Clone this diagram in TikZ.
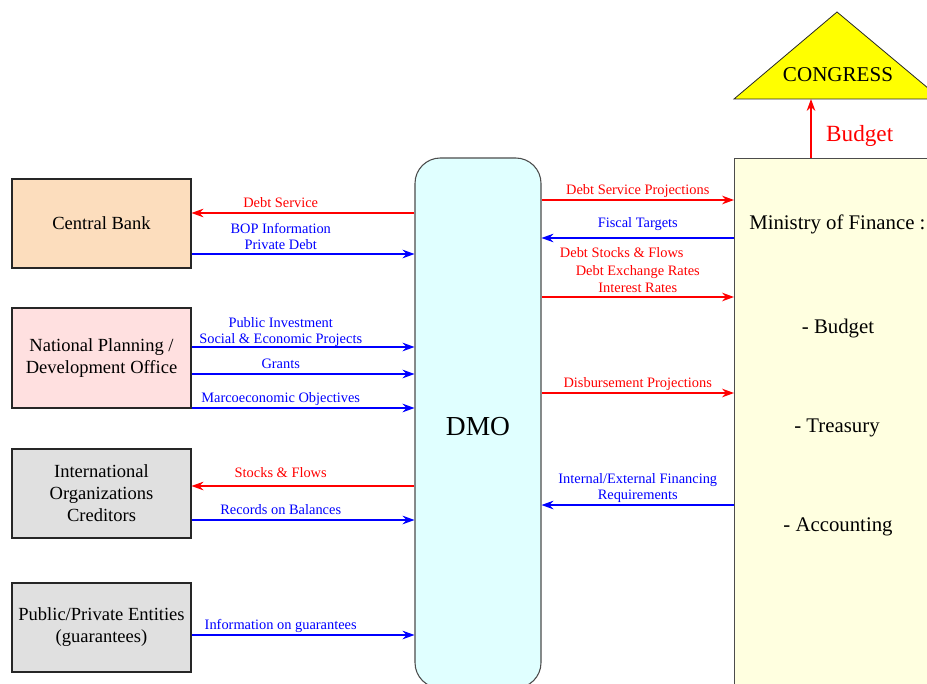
\documentclass[tikz,border=0pt]{standalone}
\usepackage{fontspec}
\setmainfont{Liberation Serif}
\usetikzlibrary{arrows.meta}

\definecolor{cbpeach}{HTML}{FCDDBD}
\definecolor{nppink}{HTML}{FFE0E0}
\definecolor{boxgray}{HTML}{E0E0E0}
\definecolor{dmocyan}{HTML}{E0FFFF}
\definecolor{mofyellow}{HTML}{FFFFE0}
\definecolor{congyellow}{HTML}{FFFF00}

\newcommand{\moffont}{\fontsize{15.6}{18}\selectfont}

\begin{document}
\begin{tikzpicture}[x=0.75pt,y=-0.75pt]

\tikzset{srcbox/.style={draw=black!85, line width=0.8pt, minimum width=134.25pt, minimum height=66.75pt, align=center, font=\fontsize{13.9}{16.5}\selectfont}}
\tikzset{flowred/.style={red, line width=0.8pt, -{Stealth[length=9pt,width=6.5pt,inset=3pt]}}}
\tikzset{flowblue/.style={flowred, blue}}
\tikzset{flowlbl/.style={above, inner sep=1.25pt, text depth=2.5pt, align=center, font=\fontsize{10.8}{12.2}\selectfont}}

\useasboundingbox (0,0) rectangle (927,684);
\clip (0,0) rectangle (927,684);

% sources
\node[srcbox, fill=cbpeach] (cb) at (101.5,223.5) {Central Bank};
\node[srcbox, fill=nppink, minimum height=75pt] (npo) at (101.5,358) {National Planning /\\Development Office};
\node[srcbox, fill=boxgray] (ioc) at (101.5,493.5) {International\\Organizations\\Creditors};
\node[srcbox, fill=boxgray] (ppe) at (101.5,627.5) {Public/Private Entities\\(guarantees)};

% debt office and ministry
\node[draw=black!70, line width=0.8pt, fill=dmocyan, rounded corners=19pt, minimum width=94.5pt, minimum height=397.5pt, text height=19pt, font=\fontsize{20.6}{24}\selectfont] (dmo) at (478,423) {DMO};
\node[draw=black!70, line width=0.8pt, fill=mofyellow, anchor=north west, minimum width=200pt, minimum height=420pt] (mof) at (734,158) {};

\node[anchor=base west, inner sep=0, font=\moffont] (moftitle) at (749,229) {Ministry of Finance :};
\node[anchor=base, inner sep=0, font=\moffont] (mofbudget) at (838,333) {- Budget};
\node[anchor=base, inner sep=0, font=\moffont] (moftreasury) at (837,432) {- Treasury};
\node[anchor=base, inner sep=0, font=\moffont] (mofaccount) at (838,531) {- Accounting};

% congress
\filldraw[fill=congyellow, draw=black!85, line width=0.6pt] (734,99) -- (837,12) -- (941,99) -- cycle;
\node[font=\fontsize{15.8}{18}\selectfont] (congress) at (838,75) {CONGRESS};
\coordinate (cbase) at (811,99);
\draw[flowred] (mof.north -| cbase) -- (cbase) node[midway, right=11pt, inner sep=0, yshift=-5.5pt, font=\fontsize{17.4}{20}\selectfont] {Budget};

% left flows
\draw[flowred] (dmo.west |- 0,213) -- (cb.east |- 0,213) node[flowlbl, pos=0.6] {Debt Service};
\draw[flowblue] (cb.east |- 0,254) -- (dmo.west |- 0,254) node[flowlbl, pos=0.4, above=-0.75pt] {BOP Information\\Private Debt};
\draw[flowblue] (npo.east |- 0,347) -- (dmo.west |- 0,347) node[flowlbl, pos=0.4, above=-1.5pt] {Public Investment\\Social \& Economic Projects};
\draw[flowblue] (npo.east |- 0,374) -- (dmo.west |- 0,374) node[flowlbl, pos=0.4] {Grants};
\draw[flowblue] (npo.east |- 0,408) -- (dmo.west |- 0,408) node[flowlbl, pos=0.4] {Marcoeconomic Objectives};
\draw[flowred] (dmo.west |- 0,486) -- (ioc.east |- 0,486) node[flowlbl, pos=0.6, above=2.5pt] {Stocks \& Flows};
\draw[flowblue] (ioc.east |- 0,520) -- (dmo.west |- 0,520) node[flowlbl, pos=0.4] {Records on Balances};
\draw[flowblue] (ppe.east |- 0,635) -- (dmo.west |- 0,635) node[flowlbl, pos=0.4] {Information on guarantees};

% right flows
\draw[flowred] (dmo.east |- 0,200) -- (mof.west |- 0,200) node[flowlbl, midway] {Debt Service Projections};
\draw[flowblue] (mof.west |- 0,238) -- (dmo.east |- 0,238) node[flowlbl, midway, above=3.75pt] {Fiscal Targets};
\draw[flowred] (dmo.east |- 0,297) -- (mof.west |- 0,297) node[flowlbl, midway, above=-0.75pt, font=\fontsize{10.8}{13}\selectfont] {Debt Stocks \& Flows\hspace*{24pt}\\Debt Exchange Rates\\Interest Rates};
\draw[flowred] (dmo.east |- 0,393) -- (mof.west |- 0,393) node[flowlbl, midway] {Disbursement Projections};
\draw[flowblue] (mof.west |- 0,505) -- (dmo.east |- 0,505) node[flowlbl, midway] {Internal/External Financing\\Requirements};

\end{tikzpicture}
\end{document}
